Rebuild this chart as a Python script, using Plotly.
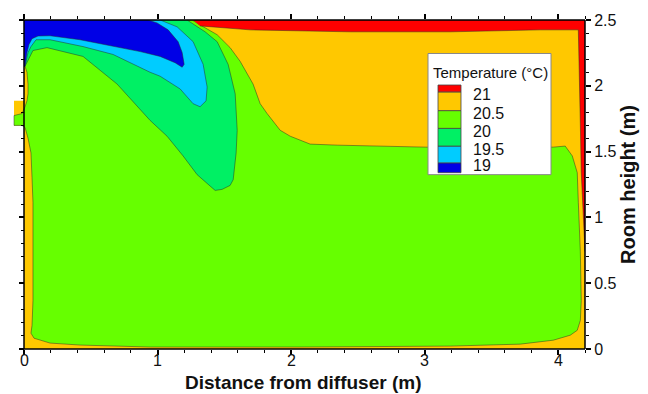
import plotly.graph_objects as go

# ---------------- data (metres) ----------------
LEVELS = [19, 19.5, 20, 20.5, 21]
LEVEL_LABELS = ["19", "19.5", "20", "20.5", "21"]
# band colours from coldest (<19) to warmest (>21)
BAND_COLORS = ["#0000E6", "#00CCFF", "#00F064", "#66FF00", "#FFC800", "#FF0000"]

X_TICKS = [0, 1, 2, 3, 4]
X_TICK_LABELS = ["0", "1", "2", "3", "4"]
Y_TICKS = [0, 0.5, 1, 1.5, 2, 2.5]
Y_TICK_LABELS = ["0", "0.5", "1", "1.5", "2", "2.5"]
X_RANGE = [-0.09, 4.2]
Y_RANGE = [0, 2.5]

# 20.5-21 band: whole room section plus the diffuser inlet stub
ORANGE_X = [0, 4.2, 4.2, 0, 0, -0.075, -0.075, 0, 0]
ORANGE_Y = [0, 0, 2.5, 2.5, 1.886, 1.886, 1.699, 1.699, 0]

# 20-20.5 band
LIME_X = [0, 1.258, 1.318, 1.446, 1.543, 1.618, 1.715, 1.768, 1.820, 1.918, 1.993,
          2.142, 2.345, 2.667, 3.004, 3.963, 4.052, 4.105, 4.142, 4.150, 4.165,
          4.172, 4.165, 4.142, 4.090, 3.963, 3.715, 3.191, 2.067, 0.944, 0.419,
          0.195, 0.075, 0.052, 0.060, 0.067, 0.067, 0.060, 0.052, 0.030, 0.0075,
          -0.015, -0.075, -0.075, -0.015, 0.0075, 0.022, 0.030, 0.030, 0.022,
          0.0075, 0]
LIME_Y = [2.5, 2.5, 2.463, 2.388, 2.290, 2.186, 2.013, 1.864, 1.789, 1.662, 1.617,
          1.557, 1.549, 1.542, 1.534, 1.534, 1.542, 1.467, 1.340, 1.115, 0.741,
          0.367, 0.217, 0.142, 0.105, 0.067, 0.037, 0.022, 0.015, 0.015, 0.030,
          0.045, 0.082, 0.120, 0.180, 0.367, 1.115, 1.302, 1.490, 1.602, 1.684,
          1.699, 1.699, 1.774, 1.789, 1.841, 1.886, 1.939, 2.013, 2.103,
          2.148, 2.148]

# 19.5-20 band
SPRING_X = [0, 1.221, 1.243, 1.356, 1.446, 1.528, 1.581, 1.596, 1.588, 1.566, 1.543,
            1.483, 1.431, 1.296, 1.191, 1.071, 0.944, 0.697, 0.442, 0.172, 0.067,
            0.022, 0.0075, 0]
SPRING_Y = [2.5, 2.5, 2.485, 2.410, 2.335, 2.163, 1.939, 1.662, 1.490, 1.287, 1.243,
            1.213, 1.205, 1.325, 1.467, 1.617, 1.737, 2.013, 2.223, 2.290, 2.268,
            2.186, 2.148, 2.148]

# 19-19.5 band
CYAN_X = [0, 1.019, 1.056, 1.146, 1.266, 1.341, 1.371, 1.363, 1.318, 1.266, 1.169,
          1.019, 0.944, 0.667, 0.442, 0.195, 0.090, 0.052, 0.030, 0.0075, 0]
CYAN_Y = [2.5, 2.5, 2.485, 2.448, 2.335, 2.163, 1.991, 1.886, 1.841, 1.864, 1.976,
          2.073, 2.103, 2.238, 2.298, 2.350, 2.350, 2.298, 2.253, 2.148, 2.148]

# below 19
BLUE_X = [0, 0.929, 0.996, 1.079, 1.154, 1.184, 1.199, 1.184, 1.131, 1.019, 0.869,
          0.644, 0.419, 0.195, 0.105, 0.060, 0.037, 0.022, 0.015, 0.0075, 0]
BLUE_Y = [2.5, 2.5, 2.478, 2.425, 2.335, 2.253, 2.163, 2.141, 2.175, 2.223, 2.260,
          2.305, 2.350, 2.380, 2.378, 2.358, 2.313, 2.253, 2.201, 2.148, 2.148]

# above 21
RED_X = [1.266, 4.2, 4.2, 4.187, 4.172, 4.165, 4.157, 4.150, 3.865, 3.191, 2.442,
         1.693, 1.318]
RED_Y = [2.5, 2.5, 0.741, 1.040, 1.340, 1.714, 2.163, 2.425, 2.425, 2.410, 2.410,
         2.425, 2.455]

# ---------------- layout geometry (pixels of the 648x394 page) ----------------
W, H = 648, 394
ML, MR, MT, MB = 12, 63, 15, 45
PX0, PX1 = ML, W - MR
PY0, PY1 = MT, H - MB


def pxx(px):
    return (px - PX0) / (PX1 - PX0)


def pxy(py):
    return (PY1 - py) / (PY1 - PY0)


FONT = "Liberation Sans, Arial, sans-serif"
EDGE = "rgba(40,40,40,0.6)"

fig = go.Figure()


def region(xs, ys, color, edge=True, xa="x", ya="y"):
    fig.add_trace(go.Scatter(
        x=xs, y=ys, mode="lines", fill="toself", fillcolor=color,
        line=dict(color=EDGE if edge else color, width=0.8 if edge else 0),
        hoverinfo="skip", showlegend=False, xaxis=xa, yaxis=ya))


region(ORANGE_X, ORANGE_Y, BAND_COLORS[4], edge=False)
region(LIME_X, LIME_Y, BAND_COLORS[3])
region(SPRING_X, SPRING_Y, BAND_COLORS[2])
region(CYAN_X, CYAN_Y, BAND_COLORS[1])
region(BLUE_X, BLUE_Y, BAND_COLORS[0])
region(RED_X, RED_Y, BAND_COLORS[5], xa="x2", ya="y2")

tickfont = dict(family=FONT, size=16, color="#111")
common = dict(showgrid=False, zeroline=False, showline=False, ticks="outside",
              ticklen=5, tickwidth=1.5, tickcolor="black")

fig.update_layout(
    width=W, height=H, margin=dict(l=ML, r=MR, t=MT, b=MB),
    paper_bgcolor="white", plot_bgcolor="white", showlegend=False,
    font=dict(family=FONT, color="#111"),
    xaxis=dict(range=X_RANGE, tickvals=X_TICKS, showticklabels=False, anchor="y",
               minor=dict(dtick=0.2, tick0=0, ticks="outside", ticklen=3,
                          tickcolor="black", tickwidth=1), **common),
    xaxis2=dict(range=X_RANGE, overlaying="x", side="top", anchor="y", tickvals=X_TICKS,
                showticklabels=False,
                minor=dict(dtick=0.2, tick0=0, ticks="outside", ticklen=3,
                           tickcolor="black", tickwidth=1), **common),
    yaxis=dict(range=Y_RANGE, anchor="free", position=pxx(24), tickvals=Y_TICKS,
               showticklabels=False,
               minor=dict(dtick=0.1, tick0=0, ticks="outside", ticklen=3,
                          tickcolor="black", tickwidth=1), **common),
    yaxis2=dict(range=Y_RANGE, overlaying="y", side="right", anchor="x",
                tickvals=Y_TICKS, ticktext=Y_TICK_LABELS, tickfont=tickfont,
                title=dict(text="<b>Room height (m)</b>",
                           font=dict(family=FONT, size=20, color="#111"), standoff=4),
                minor=dict(dtick=0.1, tick0=0, ticks="outside", ticklen=3,
                           tickcolor="black", tickwidth=1), **common),
)

shapes = []
# frame lines (the frame starts at x = 0, the inlet stub sits outside it)
for (x0, y0, x1, y1) in [(pxx(24), 0, 1, 0), (pxx(24), 1, 1, 1),
                         (pxx(24), 0, pxx(24), 1), (1, 0, 1, 1)]:
    shapes.append(dict(type="line", xref="paper", yref="paper", x0=x0, y0=y0,
                       x1=x1, y1=y1, line=dict(color="black", width=1.5), layer="above"))

# legend box
shapes.append(dict(type="rect", xref="paper", yref="paper", x0=pxx(428), x1=pxx(551),
                   y0=pxy(172), y1=pxy(49), fillcolor="white",
                   line=dict(color="#888", width=1), layer="above"))
patch_edges = [170, 160, 143, 125, 107, 88, 81]  # px, bottom (blue) to top (red)
for i, c in enumerate(BAND_COLORS):
    shapes.append(dict(type="rect", xref="paper", yref="paper", x0=pxx(438), x1=pxx(461),
                       y0=pxy(patch_edges[i]), y1=pxy(patch_edges[i + 1]),
                       fillcolor=c, line=dict(color="#444", width=0.8), layer="above"))

annotations = [
    dict(text="Temperature (°C)", xref="paper", yref="paper", x=pxx(431), y=pxy(68),
         xanchor="left", yanchor="middle", showarrow=False,
         font=dict(family=FONT, size=15, color="#111")),
    dict(text="<b>Distance from diffuser (m)</b>", xref="paper", yref="paper",
         x=pxx(303), y=pxy(383), xanchor="center", yanchor="middle", showarrow=False,
         font=dict(family=FONT, size=19, color="#111")),
]
# bottom tick labels placed at the axis values
for v, lab in zip(X_TICKS, X_TICK_LABELS):
    annotations.append(dict(text=lab, xref="x", yref="paper", x=v, y=pxy(361),
                            xanchor="center", yanchor="middle", showarrow=False,
                            font=tickfont))
for lab, edge_px in zip(LEVEL_LABELS, patch_edges[1:6]):
    annotations.append(dict(text=lab, xref="paper", yref="paper", x=pxx(471),
                            y=pxy(edge_px + 3), xanchor="left", yanchor="middle",
                            showarrow=False, font=dict(family=FONT, size=16, color="#111")))

fig.update_layout(shapes=shapes, annotations=annotations)
fig.write_html("out.html")
